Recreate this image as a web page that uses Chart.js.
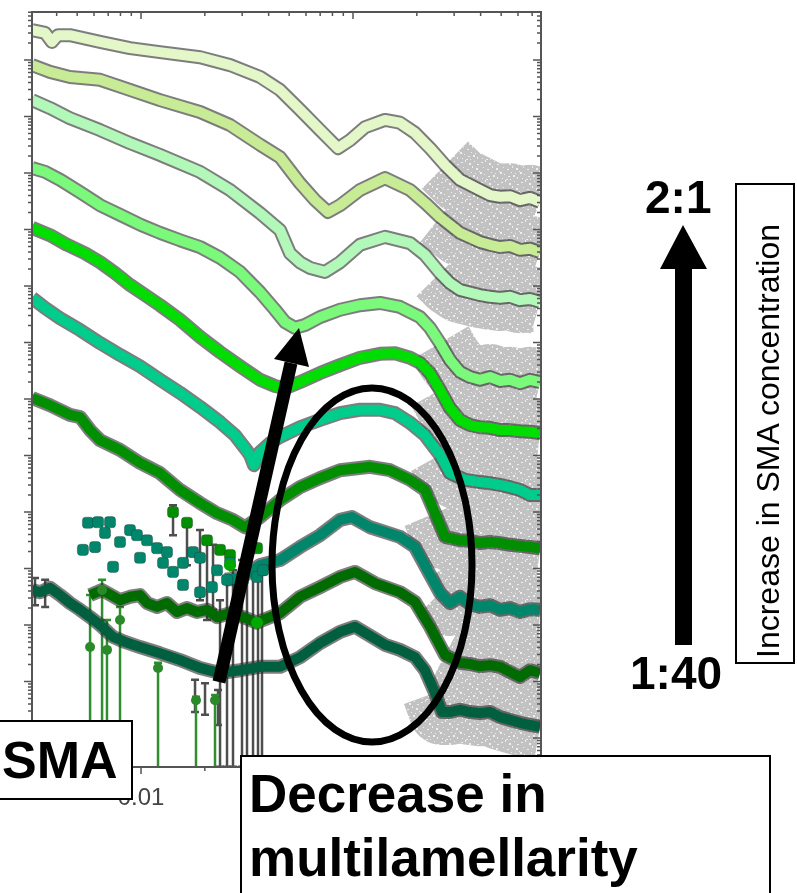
<!DOCTYPE html>
<html>
<head>
<meta charset="utf-8">
<script src="https://cdn.jsdelivr.net/npm/chart.js@4.4.1/dist/chart.umd.min.js"></script>
<style>
html,body{margin:0;padding:0;background:#fff;}
#wrap{position:relative;width:797px;height:893px;overflow:hidden;background:#fff;}
#c{position:absolute;left:0;top:0;}
svg{position:absolute;left:0;top:0;}
.box{position:absolute;background:#fff;border:2px solid #000;box-sizing:border-box;}
.bold{font-family:"Liberation Sans",Arial,Helvetica,sans-serif;font-weight:bold;color:#000;white-space:nowrap;}
.reg{font-family:"Liberation Sans",Arial,Helvetica,sans-serif;font-weight:normal;color:#000;white-space:nowrap;}
</style>
</head>
<body>
<div id="wrap">
<canvas id="c" width="797" height="893"></canvas>
<svg width="797" height="893">
  <ellipse cx="372" cy="565" rx="100" ry="177" fill="none" stroke="#000" stroke-width="7"/>
  <line x1="219" y1="682" x2="291" y2="363" stroke="#000" stroke-width="13"/>
  <polygon points="299,328 309,367 274,359" fill="#000"/>
  <polygon points="683,225 707,269 660,269" fill="#000"/>
  <rect x="675" y="268" width="17" height="377" fill="#000"/>
</svg>
<div class="box" style="left:-2px;top:720px;width:135px;height:80px;">
  <span class="bold" style="position:absolute;left:2px;top:0;font-size:52px;line-height:76px;">SMA</span>
</div>
<div class="box" style="left:240px;top:755px;width:531px;height:160px;">
  <div class="bold" style="position:absolute;left:7px;top:5px;font-size:53px;line-height:64px;">Decrease in<br>multilamellarity</div>
</div>
<div class="bold" style="position:absolute;left:645px;top:174px;font-size:46px;line-height:46px;">2:1</div>
<div class="bold" style="position:absolute;left:630px;top:650px;font-size:46px;line-height:46px;">1:40</div>
<div class="box" style="left:735px;top:183px;width:60px;height:481px;"></div>
<div class="reg" style="position:absolute;left:0;top:0;font-size:32px;line-height:32px;transform-origin:0 0;transform:translate(752px,658px) rotate(-90deg);">Increase in SMA concentration</div>
</div>
<script>
// ---- axis settings / tick labels ----
const xTickValues = [0.01, 0.1];
const xTickLabels = ['0.01', '0.1'];
const X_MIN = 0.00306, X_MAX = 0.7706;      // q range
const Y_MIN = -0.513, Y_MAX = 12.85;        // log10 intensity (a.u., offset)

// ---- SAXS curves (q, log10 I) from top (2:1) to bottom (1:40) ----
const q1 = [0.00306,0.00353,0.00380,0.00406,0.00462,0.00641,0.00887,0.01229,0.01898,0.02629,0.03642,0.04526,0.05623,0.06987,0.0850,0.09678,0.1139,0.1416,0.1666,0.1961,0.2308,0.2716,0.3197,0.3972,0.4428,0.4936,0.5503,0.6134,0.6838,0.7623];
const L1 = [12.53,12.48,12.32,12.44,12.44,12.32,12.21,12.14,12.05,11.91,11.70,11.47,11.12,10.76,10.44,10.58,10.81,10.94,10.89,10.71,10.44,10.14,9.88,9.70,9.61,9.58,9.59,9.52,9.56,9.49];

const q2 = [0.00306,0.00372,0.00462,0.00641,0.00887,0.01229,0.01898,0.02629,0.03642,0.04526,0.05623,0.06619,0.07622,0.08688,0.1079,0.1416,0.1858,0.2186,0.2573,0.3197,0.3972,0.4428,0.4936,0.5503,0.6134,0.6838,0.7623];
const L2 = [11.91,11.79,11.70,11.65,11.47,11.29,11.08,10.85,10.50,10.28,9.82,9.52,9.31,9.43,9.70,9.91,9.70,9.47,9.22,8.94,8.78,8.73,8.69,8.71,8.64,8.66,8.60];

const q3 = [0.00306,0.00372,0.00462,0.00641,0.00887,0.01229,0.01898,0.02629,0.03642,0.04526,0.05044,0.05623,0.06269,0.07377,0.08688,0.1079,0.1416,0.1858,0.2186,0.2573,0.2868,0.3197,0.3972,0.4428,0.4936,0.5503,0.6134,0.6838,0.7623];
const L3 = [11.29,11.15,10.97,10.76,10.53,10.32,10.02,9.70,9.29,8.99,8.58,8.42,8.32,8.25,8.42,8.73,8.87,8.76,8.55,8.23,8.05,7.93,7.84,7.81,7.79,7.81,7.75,7.77,7.72];

const q4 = [0.00306,0.00353,0.00415,0.00516,0.00641,0.00796,0.0100,0.01229,0.01528,0.01898,0.02359,0.02931,0.03642,0.04287,0.04778,0.05326,0.05937,0.06987,0.08688,0.1079,0.1341,0.1666,0.2070,0.2308,0.2573,0.2868,0.3197,0.3564,0.3972,0.4428,0.4936,0.5503,0.6134,0.6838,0.7623];
const L4 = [10.09,10.02,9.88,9.66,9.43,9.26,9.08,8.94,8.81,8.69,8.50,8.25,7.89,7.58,7.36,7.26,7.31,7.45,7.58,7.66,7.70,7.63,7.45,7.26,6.99,6.69,6.48,6.39,6.34,6.39,6.32,6.34,6.28,6.34,6.30];

const q5 = [0.00306,0.00372,0.00448,0.00544,0.00641,0.00754,0.00887,0.01044,0.01229,0.01528,0.01898,0.02359,0.02931,0.03642,0.04287,0.04778,0.05623,0.06987,0.08688,0.1079,0.1341,0.1578,0.1858,0.2070,0.2308,0.2573,0.2868,0.3197,0.3564,0.3972,0.4428,0.4936,0.5503,0.6134,0.6838,0.7623];
const L5 = [9.03,8.90,8.73,8.58,8.42,8.23,8.02,7.84,7.66,7.40,7.10,6.83,6.58,6.34,6.23,6.19,6.30,6.46,6.60,6.73,6.80,6.81,6.73,6.64,6.46,6.16,5.84,5.63,5.54,5.50,5.49,5.45,5.45,5.43,5.42,5.40];

const q6 = [0.00306,0.00353,0.00415,0.00516,0.00641,0.00796,0.00989,0.01229,0.01528,0.01898,0.02359,0.02776,0.03095,0.03267,0.03412,0.03642,0.04060,0.04526,0.05623,0.06987,0.08688,0.1079,0.1341,0.1578,0.1858,0.2186,0.2573,0.2868,0.3376,0.3972,0.4428,0.4936,0.5503,0.6134,0.6838,0.7623];
const L6 = [7.79,7.61,7.43,7.22,6.99,6.78,6.58,6.34,6.11,5.86,5.59,5.36,5.13,5.01,4.83,5.06,5.22,5.33,5.50,5.63,5.75,5.81,5.81,5.75,5.58,5.36,5.01,4.69,4.57,4.53,4.51,4.48,4.44,4.39,4.30,4.30];

const q7 = [0.00306,0.00372,0.00462,0.00516,0.00575,0.00641,0.00796,0.00989,0.01229,0.01528,0.01898,0.02283,0.02716,0.03095,0.03642,0.04526,0.05623,0.06987,0.08688,0.1203,0.1495,0.1858,0.2186,0.2437,0.2716,0.3197,0.3564,0.3972,0.4428,0.4936,0.5503,0.6134,0.6838,0.7623];
const L7 = [6.02,5.89,5.72,5.68,5.45,5.27,5.10,4.87,4.69,4.39,4.16,3.98,3.86,3.73,3.91,4.21,4.44,4.60,4.74,4.80,4.74,4.57,4.39,3.98,3.56,3.50,3.49,3.45,3.47,3.45,3.42,3.40,3.38,3.36];

const q8 = [0.02490,0.02931,0.03267,0.03642,0.04526,0.05623,0.06987,0.08688,0.09892,0.1203,0.1666,0.1961,0.2308,0.2573,0.2868,0.3197,0.3564,0.3972,0.4428,0.4936,0.5503,0.6134,0.6838,0.7623];
const L8 = [2.80,2.83,2.94,3.06,3.15,3.38,3.59,3.86,3.91,3.73,3.56,3.38,2.89,2.57,2.39,2.50,2.37,2.32,2.35,2.27,2.30,2.23,2.28,2.27];
// low-q scattered points of curve 8
const q8low = [0.00532,0.00562,0.00607,0.00627,0.00676,0.00714,0.00738,0.00796,0.00887,0.00957,0.00989,0.01067,0.01190,0.01270,0.01326,0.01416,0.01578,0.01578,0.01759,0.01898,0.01898,0.02162,0.02283,0.02545,0.02629,0.03028,0.03525,0.03763];
const L8low = [3.33,3.81,3.38,3.82,3.63,3.82,3.03,3.47,3.68,3.59,3.19,3.50,3.36,3.10,3.29,2.94,3.10,2.71,3.29,3.19,2.58,2.67,2.97,2.80,3.10,2.80,2.85,2.97];

const q9 = [0.00575,0.00655,0.00796,0.00887,0.00989,0.01067,0.01190,0.01326,0.01478,0.01648,0.01837,0.02048,0.02283,0.02629,0.03028,0.03525,0.03763,0.04526,0.05623,0.06987,0.08688,0.1022,0.1270,0.1666,0.1961,0.2308,0.2716,0.3197,0.3564,0.3972,0.4428,0.4936,0.5503,0.6134,0.6838,0.7623];
const L9 = [2.53,2.62,2.44,2.50,2.53,2.39,2.32,2.39,2.23,2.30,2.23,2.27,2.14,2.21,2.14,2.04,2.09,2.21,2.50,2.67,2.85,2.94,2.74,2.58,2.41,1.97,1.47,1.33,1.31,1.27,1.29,1.26,1.17,1.08,1.20,1.15];

const q10 = [0.00306,0.00334,0.00372,0.00415,0.00462,0.00516,0.00575,0.00641,0.00738,0.00840,0.00989,0.01229,0.01528,0.01898,0.02359,0.02931,0.03642,0.04526,0.05623,0.06987,0.08688,0.1022,0.1203,0.1416,0.1666,0.1961,0.2186,0.2437,0.2629,0.2868,0.3197,0.3564,0.3972,0.4428,0.4936,0.5503,0.6134,0.6838,0.7623];
const L10 = [2.62,2.58,2.66,2.53,2.39,2.27,2.14,2.00,1.79,1.70,1.61,1.50,1.38,1.24,1.15,1.20,1.26,1.26,1.43,1.68,1.88,1.97,1.81,1.65,1.56,1.43,1.20,0.80,0.46,0.46,0.50,0.46,0.44,0.46,0.37,0.32,0.27,0.23,0.20];

// loose low-q markers of curve 7 and bright green points
const q7low = [0.01416,0.01648,0.02048,0.02359,0.02629,0.03525];
const L7low = [4.00,3.81,3.50,3.33,3.24,3.36];
const qBright = [0.02629,0.03525];
const LBright = [3.06,2.04];

// green error bars (very large, reaching below the axis)
const greenBarQ   = [0.00575,0.00655,0.00691,0.00796,0.01203,0.01817,0.02234];
const greenBarMid = [1.61,2.62,1.56,2.09,1.24,0.67,0.67];
const greenBarTop = [2.53,2.80,2.09,2.32,1.33,0.73,0.76];
// grey error bars
const grayBarQ   = [0.003162,0.00353,0.01416,0.01648,0.01898,0.02048,0.02186,0.02359,0.02545,0.02716,0.02995,0.03162,0.03376,0.03564,0.03722,0.01798,0.02004,0.02308];
const grayBarTop = [2.83,2.80,4.12,3.86,3.68,3.50,3.42,2.44,2.80,2.97,3.15,3.24,2.97,3.06,2.89,1.03,0.97,0.85];
const grayBarBot = [2.35,2.32,3.59,3.06,2.44,2.09,2.27,-0.51,-0.51,-0.51,-0.51,-0.51,-0.51,-0.51,-0.51,0.46,0.41,0.23];

const curveColors = ['#e3f7c9','#c8eb96','#b2f9b9','#7af97a','#00dd00','#00cc8c','#008f00','#00876b','#006b00','#005f3f'];
const BAND_FROM_Q = 0.24;

// ---- build ----
const allQ = [q1,q2,q3,q4,q5,q6,q7,q8,q9,q10];
const allL = [L1,L2,L3,L4,L5,L6,L7,L8,L9,L10];
const toPts = (q, L) => q.map((v, i) => ({x: v, y: L[i]}));

// speckled grey texture for the noisy high-q error region (fixed speckle layout)
const tile = document.createElement('canvas');
tile.width = 20; tile.height = 20;
const tctx = tile.getContext('2d');
tctx.fillStyle = '#c2c2c2'; tctx.fillRect(0, 0, 20, 20);
tctx.fillStyle = '#eeeeee';
[[1,2,2,1],[5,0,1,2],[9,3,2,2],[14,1,1,1],[17,4,2,1],[3,7,1,1],[7,9,2,1],[12,6,1,2],[16,8,2,2],[19,11,1,1],
 [0,12,2,2],[4,14,1,1],[8,16,2,1],[11,12,1,1],[13,15,2,2],[17,17,1,2],[2,18,1,1],[6,19,2,1],[10,19,1,1],[15,13,1,1]]
 .forEach(p => tctx.fillRect(p[0], p[1], p[2], p[3]));
const bandPattern = tctx.createPattern(tile, 'repeat');

const datasets = [];
allQ.forEach((q, i) => {
  const p = toPts(q, allL[i]);
  datasets.push({data: p.filter(d => d.x >= BAND_FROM_Q), borderColor: bandPattern, borderWidth: 66,
    pointRadius: 0, order: 40, clip: 0, borderJoinStyle: 'round', borderCapStyle: 'butt', tension: 0});
  datasets.push({data: p, borderColor: 'rgba(45,45,45,0.62)', borderWidth: 14, pointRadius: 0,
    order: 20, clip: 0, borderJoinStyle: 'round', tension: 0});
  datasets.push({data: p, borderColor: curveColors[i], borderWidth: 10, pointRadius: 0,
    order: 10, clip: 0, borderJoinStyle: 'round', tension: 0});
});
datasets.push({data: toPts(q8low, L8low), showLine: false, pointStyle: 'rectRounded', pointRadius: 6.5,
  backgroundColor: curveColors[7], borderColor: 'rgba(40,40,40,0.35)', borderWidth: 1, order: 5, clip: 0});
datasets.push({data: toPts(q7low, L7low), showLine: false, pointStyle: 'rectRounded', pointRadius: 6.5,
  backgroundColor: curveColors[6], borderColor: 'rgba(40,40,40,0.35)', borderWidth: 1, order: 5, clip: 0});
datasets.push({data: toPts(qBright, LBright), showLine: false, pointStyle: 'circle', pointRadius: 6,
  backgroundColor: '#00a800', borderWidth: 0, order: 4, clip: 0});
datasets.push({data: toPts(greenBarQ, greenBarMid), showLine: false, pointStyle: 'circle', pointRadius: 5,
  backgroundColor: '#2a8a2a', borderWidth: 0, order: 4, clip: 0});

const frameAndBars = {
  id: 'frameAndBars',
  beforeDatasetsDraw(chart) {
    const {ctx, chartArea: a, scales: {x, y}} = chart;
    ctx.save();
    ctx.beginPath(); ctx.rect(a.left, a.top, a.right - a.left, a.bottom - a.top); ctx.clip();
    ctx.strokeStyle = '#4e4e4e'; ctx.lineWidth = 2.5;
    grayBarQ.forEach((q, i) => {
      const px = x.getPixelForValue(q), t = y.getPixelForValue(grayBarTop[i]), b = y.getPixelForValue(grayBarBot[i]);
      ctx.beginPath(); ctx.moveTo(px, t); ctx.lineTo(px, b);
      ctx.moveTo(px - 4, t); ctx.lineTo(px + 4, t);
      ctx.moveTo(px - 4, b); ctx.lineTo(px + 4, b); ctx.stroke();
    });
    ctx.strokeStyle = '#2f8f2f'; ctx.lineWidth = 2.5;
    greenBarQ.forEach((q, i) => {
      const px = x.getPixelForValue(q), t = y.getPixelForValue(greenBarTop[i]), b = y.getPixelForValue(Y_MIN);
      ctx.beginPath(); ctx.moveTo(px, t); ctx.lineTo(px, b);
      ctx.moveTo(px - 4, t); ctx.lineTo(px + 4, t); ctx.stroke();
    });
    ctx.restore();
  },
  afterDatasetsDraw(chart) {
    const {ctx, chartArea: a, scales: {x, y}} = chart;
    ctx.save();
    ctx.strokeStyle = '#555'; ctx.lineWidth = 2;
    ctx.strokeRect(a.left, a.top, a.right - a.left, a.bottom - a.top);
    ctx.lineWidth = 1.5;
    for (let e = -3; e <= -1; e++) {
      for (let k = 1; k <= 9; k++) {
        const v = k * Math.pow(10, e);
        if (v < X_MIN || v > X_MAX) continue;
        const px = x.getPixelForValue(v), len = k === 1 ? 7 : 4;
        ctx.beginPath();
        ctx.moveTo(px, a.top); ctx.lineTo(px, a.top + len);
        ctx.moveTo(px, a.bottom); ctx.lineTo(px, a.bottom + len);
        ctx.stroke();
      }
    }
    for (let e = -1; e <= 12; e++) {
      for (let k = 1; k <= 9; k++) {
        const v = e + Math.log10(k);
        if (v < Y_MIN || v > Y_MAX) continue;
        const py = y.getPixelForValue(v), len = k === 1 ? 8 : 4;
        ctx.beginPath();
        ctx.moveTo(a.left - len, py); ctx.lineTo(a.left, py);
        ctx.moveTo(a.right - len, py); ctx.lineTo(a.right, py);
        ctx.stroke();
      }
    }
    ctx.restore();
  }
};

new Chart(document.getElementById('c'), {
  type: 'line',
  data: {datasets},
  options: {
    responsive: false,
    animation: false,
    events: [],
    layout: {padding: {left: 32, top: 12, right: 256, bottom: 0}},
    plugins: {legend: {display: false}, tooltip: {enabled: false}},
    scales: {
      x: {
        type: 'logarithmic', min: X_MIN, max: X_MAX, bounds: 'data',
        grid: {display: false, drawTicks: false}, border: {display: false},
        afterBuildTicks: (s) => { s.ticks = xTickValues.map(v => ({value: v})); },
        afterFit: (s) => { s.height = 126; },
        ticks: {
          autoSkip: false, maxRotation: 0, padding: 17, color: '#444',
          font: {family: "'Liberation Sans', Arial, sans-serif", size: 24},
          callback: (v) => { const i = xTickValues.indexOf(v); return i >= 0 ? xTickLabels[i] : ''; }
        }
      },
      y: {type: 'linear', min: Y_MIN, max: Y_MAX, bounds: 'data', display: false}
    }
  },
  plugins: [frameAndBars]
});
</script>
</body>
</html>
